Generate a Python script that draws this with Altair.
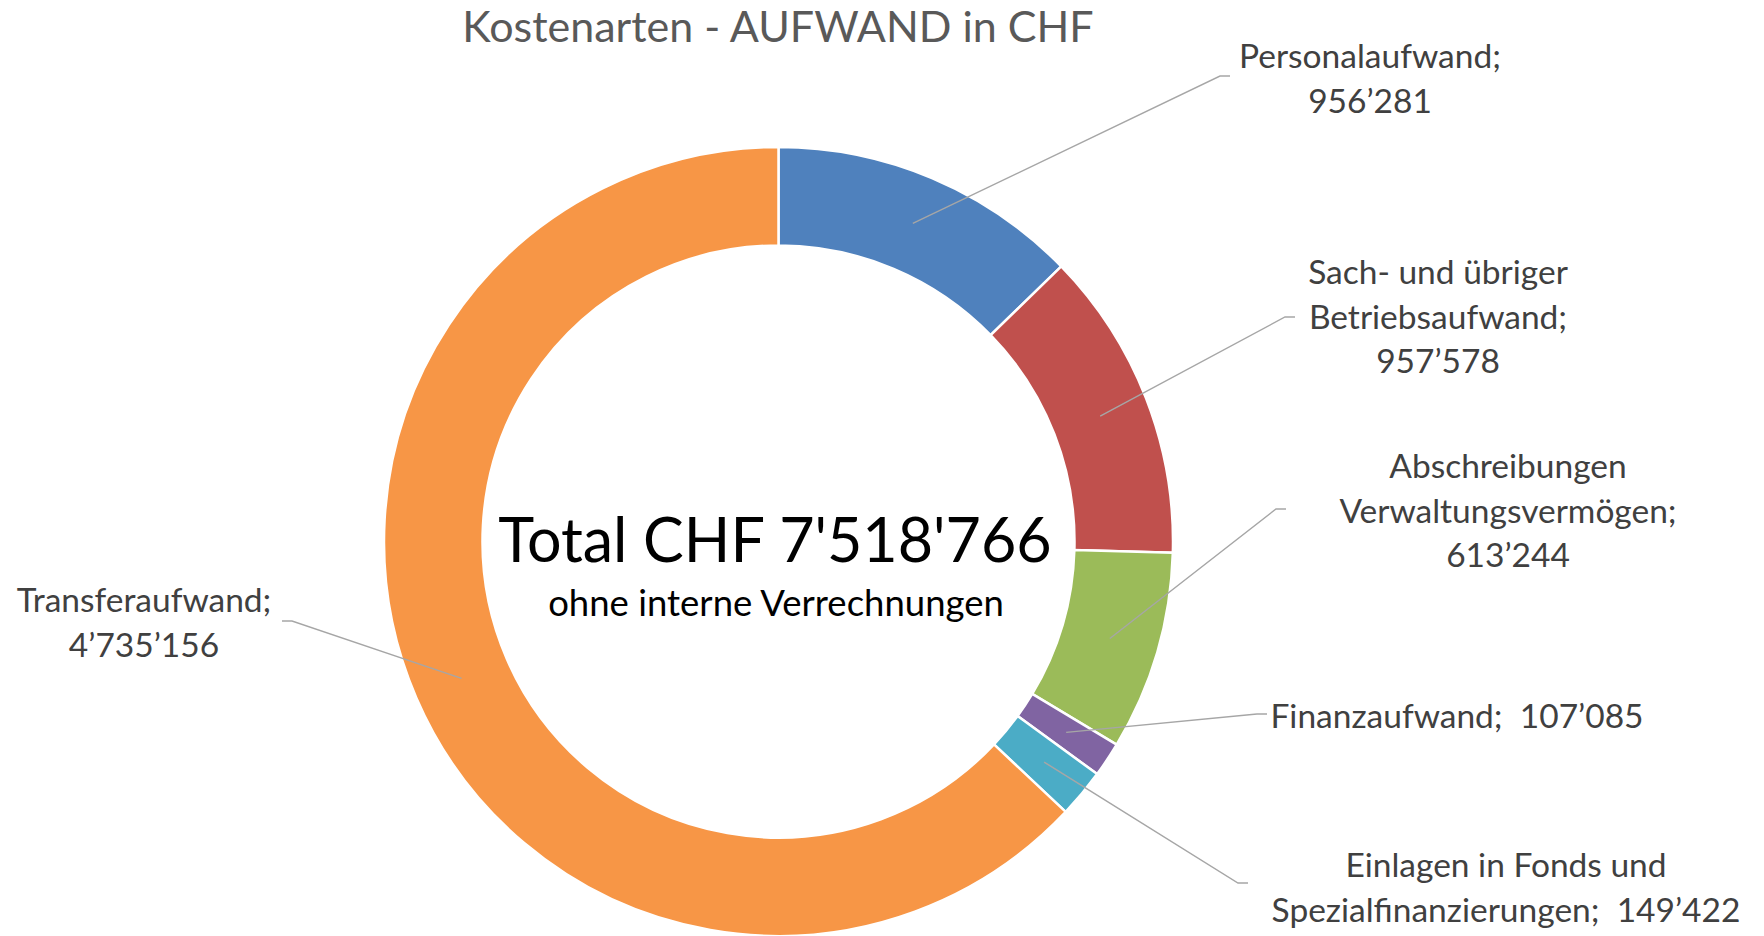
import math
import altair as alt
import pandas as pd

# ---------------- data ----------------
categories = [
    "Personalaufwand",
    "Sach- und übriger Betriebsaufwand",
    "Abschreibungen Verwaltungsvermögen",
    "Finanzaufwand",
    "Einlagen in Fonds und Spezialfinanzierungen",
    "Transferaufwand",
]
values = [956281, 957578, 613244, 107085, 149422, 4735156]
colors = ["#4F81BD", "#C0504D", "#9BBB59", "#8064A2", "#4BACC6", "#F79646"]
label_lines = [
    ["Personalaufwand;", "{v}"],
    ["Sach- und übriger", "Betriebsaufwand;", "{v}"],
    ["Abschreibungen", "Verwaltungsvermögen;", "{v}"],
    ["Finanzaufwand;\u00a0 {v}"],
    ["Einlagen in Fonds und", "Spezialfinanzierungen;\u00a0 {v}"],
    ["Transferaufwand;", "{v}"],
]
title_text = "Kostenarten - AUFWAND in CHF"
center_sub = "ohne interne Verrechnungen"

# ---------------- layout ----------------
W, H = 1764, 936
CX, CY = 778.5, 541.5
R_OUT, R_IN = 394.5, 296
R_ANCHOR = (R_OUT + R_IN) / 2
FONT = "Lato"
LABEL_SIZE = 33.5
LINE_H = 44.5
# label centre x and first baseline y
label_pos = [(1370, 68), (1438, 284), (1508, 478), (1457, 728), (1506, 877), (144, 612)]
# elbow point of leader line and direction of the short horizontal tail
elbows = [(1220, 76, 1), (1285, 317, 1), (1276, 509, 1), (1257, 714, 1), (1238, 883, 1), (292, 621, -1)]
TAIL = 10

total = sum(values)


def fmt(v):
    return f"{v:,}".replace(",", "\u2019")


center_main = "Total CHF " + f"{total:,}".replace(",", "'")

arc_df = pd.DataFrame({"cat": categories, "value": values, "order": list(range(len(values)))})

# leader lines: from slice mid-angle on the ring to the elbow, then a short tail
line_rows = []
cum = 0
for i, (c, v) in enumerate(zip(categories, values)):
    a = (cum + v / 2) / total * 2 * math.pi
    cum += v
    ax = CX + R_ANCHOR * math.sin(a)
    ay = CY - R_ANCHOR * math.cos(a)
    ex, ey, d = elbows[i]
    line_rows += [
        {"cat": c, "seq": 0, "px": ax, "py": ay},
        {"cat": c, "seq": 1, "px": ex, "py": ey},
        {"cat": c, "seq": 2, "px": ex + d * TAIL, "py": ey},
    ]
line_df = pd.DataFrame(line_rows)

text_rows = []
for i, (c, v) in enumerate(zip(categories, values)):
    lx, ly = label_pos[i]
    for j, ln in enumerate(label_lines[i]):
        text_rows.append({"cat": c, "txt": ln.replace("{v}", fmt(v)), "px": lx, "py": ly + j * LINE_H})
text_df = pd.DataFrame(text_rows)

xs = alt.Scale(domain=[0, W], nice=False, zero=False)
ys = alt.Scale(domain=[0, H], nice=False, zero=False, reverse=True)

arcs = alt.Chart(arc_df).mark_arc(
    outerRadius=R_OUT, innerRadius=R_IN, stroke="white", strokeWidth=2.5
).encode(
    theta=alt.Theta("value:Q", stack=True, scale=alt.Scale(range=[0, 2 * math.pi])),
    color=alt.Color("cat:N", scale=alt.Scale(domain=categories, range=colors), legend=None),
    order=alt.Order("order:Q"),
    x=alt.value(CX),
    y=alt.value(CY),
)

leaders = alt.Chart(line_df).mark_line(color="#A6A6A6", strokeWidth=1.4).encode(
    x=alt.X("px:Q", scale=xs, axis=None),
    y=alt.Y("py:Q", scale=ys, axis=None),
    detail="cat:N",
    order="seq:Q",
)

labels = alt.Chart(text_df).mark_text(
    font=FONT, fontSize=LABEL_SIZE, color="#404040", align="center", baseline="alphabetic"
).encode(
    x=alt.X("px:Q", scale=xs, axis=None),
    y=alt.Y("py:Q", scale=ys, axis=None),
    text="txt:N",
)

center_df = pd.DataFrame({
    "txt": [title_text, center_main, center_sub],
    "px": [778, 775, 776],
    "py": [42, 562, 616],
    "size": [43, 61, 36.5],
    "col": ["#595959", "#000000", "#000000"],
})

center_texts = alt.Chart(center_df).mark_text(
    font=FONT, align="center", baseline="alphabetic"
).encode(
    x=alt.X("px:Q", scale=xs, axis=None),
    y=alt.Y("py:Q", scale=ys, axis=None),
    text="txt:N",
    size=alt.Size("size:Q", scale=None, legend=None),
    color=alt.Color("col:N", scale=None, legend=None),
)

chart = alt.layer(arcs, leaders, labels, center_texts).resolve_scale(color="independent").properties(
    width=W, height=H, padding=0, autosize=alt.AutoSizeParams(type="none"), background="white"
).configure_view(stroke=None)

chart.save("out.html", embed_options={"renderer": "svg", "actions": False})
